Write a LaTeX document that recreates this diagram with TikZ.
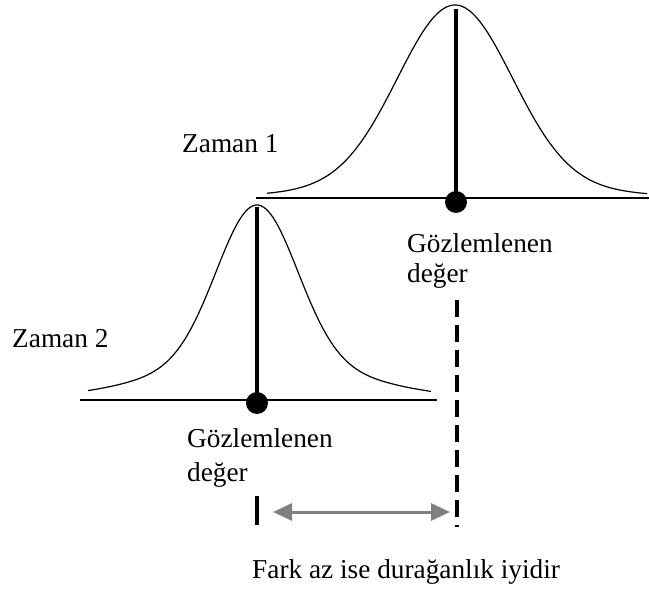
\documentclass[tikz,border=0pt]{standalone}
\usepackage{fontspec}
\setmainfont{Liberation Serif}
\usepackage{xcolor}
\definecolor{fkgray}{RGB}{128,128,128}
\usepackage{tikz}
\usetikzlibrary{arrows.meta, positioning}

\tikzset{
  egri/.style={line width=1.2pt, black},
  eksen/.style={line width=2.2pt, black},
  gozcizgi/.style={line width=3.6pt, black},
  gozkesik/.style={line width=3.6pt, black, dash pattern=on 17pt off 8pt},
  nokta/.style={circle, fill=black, inner sep=0pt, minimum size=22pt},
  yazi/.style={inner sep=0pt, anchor=base west, font=\fontsize{27.3}{31}\selectfont},
  farkok/.style={line width=3pt, fkgray, {Triangle[length=19pt,width=17pt]}-{Triangle[length=19pt,width=17pt]}}
}

\begin{document}
\begin{tikzpicture}[x=1pt, y=-1pt]
  \useasboundingbox (0,0) rectangle (649,591);

  % --- Zaman 1 ---
  \draw[eksen] (256,198) -- (649,198);
  \draw[egri] plot[domain=267:647, samples=160]
    (\x, {198-193*(0.93*exp(-0.5*((\x-455)/57)^2)+0.07*exp(-0.5*((\x-455)/120)^2))});
  \coordinate (tepe1) at (456,9);
  \node[nokta] (obs1) at (456,202) {};
  \draw[gozcizgi] (tepe1) -- (obs1.center);
  \node[yazi] (zaman1) at (182,153) {Zaman 1};
  \node[yazi] (goz1) at (407,253) {Gözlemlenen};
  \node[yazi] (deger1) at (407,283) {değer};

  % --- Zaman 2 ---
  \draw[eksen] (80,400) -- (437,400);
  \draw[egri] plot[domain=88:431, samples=160]
    (\x, {400-195*(0.8*exp(-0.5*((\x-257)/40)^2)+0.2*exp(-0.5*((\x-257)/100)^2))});
  \coordinate (tepe2) at (257,207);
  \node[nokta] (obs2) at (257,403) {};
  \draw[gozcizgi] (tepe2) -- (obs2.center);
  \node[yazi] (zaman2) at (12,348) {Zaman 2};
  \node[yazi] (goz2) at (187,447) {Gözlemlenen};
  \node[yazi] (deger2) at (187,481) {değer};

  % --- Fark ---
  \coordinate (kesikust) at (457,300);
  \coordinate (kesikalt) at (457,527);
  \draw[gozkesik] (kesikust) -- (kesikalt);
  \coordinate (cubukust) at (257,496);
  \coordinate (cubukalt) at (257,525);
  \draw[gozcizgi] (cubukust) -- (cubukalt);
  \coordinate (okbas) at (273,512);
  \coordinate (oksag) at (450,512);
  \draw[farkok] (okbas) -- (oksag);
  \node[yazi] (fark) at (252,578) {Fark az ise durağanlık iyidir};
\end{tikzpicture}
\end{document}
